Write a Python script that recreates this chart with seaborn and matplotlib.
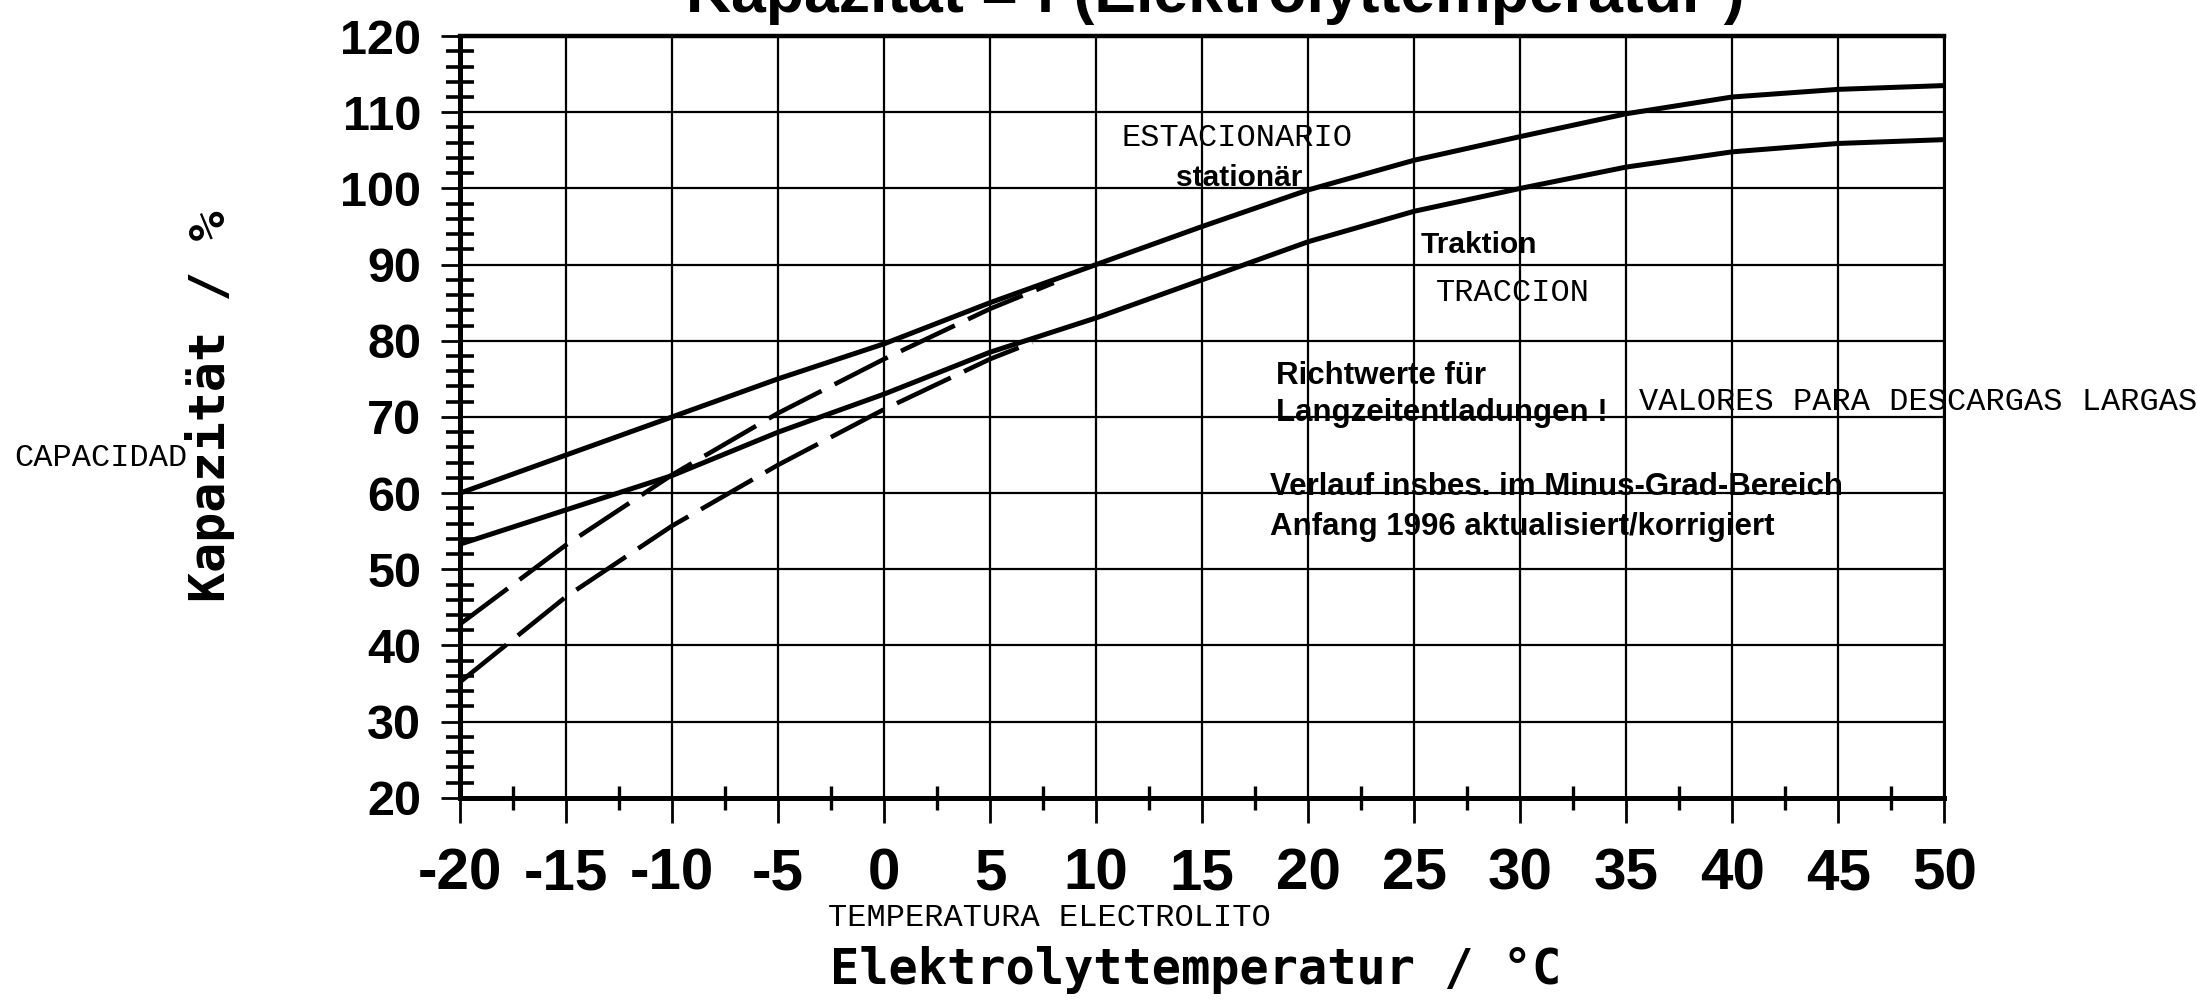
import matplotlib
matplotlib.use('Agg')
import matplotlib.pyplot as plt
import seaborn as sns
from matplotlib.ticker import MultipleLocator

# values
temps = [-20, -15, -10, -5, 0, 5, 10, 15, 20, 25, 30, 35, 40, 45, 50]
stationaer = [60, 65, 70, 75, 79.6, 85, 90, 95, 99.8, 103.7, 106.8, 109.8, 112, 113, 113.5]
traktion = [53.3, 57.8, 62.3, 68, 73, 78.5, 83, 88, 93, 97, 100, 102.8, 104.8, 105.9, 106.4]

# dashed (old) curves, minus range
temps_alt_st = [-20, -15, -10, -5, 0, 5, 8]
stationaer_alt = [42.8, 53.2, 62.4, 70.5, 77.6, 84.2, 87.6]
temps_alt_tr = [-20, -15, -10, -5, 0, 5, 7]
traktion_alt = [35.2, 46.4, 55.7, 63.7, 71, 77.6, 79.8]

xticks = list(range(-20, 55, 5))
xlabels = [str(v) for v in xticks]
yticks = list(range(20, 130, 10))
ylabels = [str(v) for v in yticks]

sns.set_style('ticks')
plt.rcParams['font.family'] = ['Liberation Sans', 'DejaVu Sans']
plt.rcParams['text.color'] = 'black'
plt.rcParams['xtick.color'] = 'black'
plt.rcParams['ytick.color'] = 'black'

fig = plt.figure(figsize=(21.97, 10.01), dpi=100)
ax = fig.add_axes([0.2094, 0.203, 0.885 - 0.2094, 0.964 - 0.203])

sns.lineplot(x=temps, y=stationaer, ax=ax, color='black', lw=3.6)
sns.lineplot(x=temps, y=traktion, ax=ax, color='black', lw=3.6)
sns.lineplot(x=temps_alt_st, y=stationaer_alt, ax=ax, color='black', lw=3.3,
             linestyle=(0, (13, 3.2)))
sns.lineplot(x=temps_alt_tr, y=traktion_alt, ax=ax, color='black', lw=3.3,
             linestyle=(0, (13, 3.2)))

ax.set_xlim(-20, 50)
ax.set_ylim(20, 120)
ax.set_xticks(xticks)
ax.set_yticks(yticks)
ax.xaxis.set_minor_locator(MultipleLocator(2.5))
ax.yaxis.set_minor_locator(MultipleLocator(2))
ax.set_xticklabels(xlabels, weight='bold', size=42, color='black')
ax.set_yticklabels(ylabels, weight='bold', size=35, color='black')
ax.grid(True, which='major', color='black', lw=1.6)

ax.tick_params(which='both', bottom=True, left=True, top=False, right=False)
ax.tick_params(axis='x', which='major', direction='out', length=18, width=2, pad=18)
ax.tick_params(axis='y', which='major', direction='out', length=14, width=2, pad=14)
ax.tick_params(axis='x', which='minor', direction='inout', length=17, width=2.4)
ax.tick_params(axis='y', which='minor', direction='inout', length=20, width=2.6)

for side, w in [('top', 3.2), ('left', 3.6), ('bottom', 3.6), ('right', 2.2)]:
    ax.spines[side].set_visible(True)
    ax.spines[side].set_color('black')
    ax.spines[side].set_linewidth(w)

# title, cut off by the top edge in the scan
fig.text(0.553, 0.988, 'Kapazität = f (Elektrolyttemperatur )', ha='center', va='baseline',
         weight='bold', size=45)

# axis labels
fig.text(0.0956, 0.594, 'Kapazität / %', rotation=90, ha='center', va='center',
         family='DejaVu Sans Mono', weight='bold', size=36)
fig.text(0.544, 0.031, 'Elektrolyttemperatur / °C', ha='center', va='center',
         family='DejaVu Sans Mono', weight='bold', size=35)

# spanish notes
mono = dict(family='Liberation Mono', size=23, color='black')
fig.text(0.0064, 0.542, 'CAPACIDAD', ha='left', va='center', **mono)
fig.text(0.377, 0.083, 'TEMPERATURA ELECTROLITO', ha='left', va='center', **mono)
ax.text(11.2, 106.6, 'ESTACIONARIO', ha='left', va='center', **mono)
ax.text(26.0, 86.3, 'TRACCION', ha='left', va='center', **mono)
ax.text(35.6, 72.0, 'VALORES PARA DESCARGAS LARGAS', ha='left', va='center',
        clip_on=False, **mono)

# german notes
bold = dict(weight='bold', color='black')
ax.text(13.75, 101.3, 'stationär', ha='left', va='center', size=21.5, **bold)
ax.text(25.3, 92.6, 'Traktion', ha='left', va='center', size=21.5, **bold)
ax.text(18.5, 75.4, 'Richtwerte für', ha='left', va='center', size=22.5, **bold)
ax.text(18.5, 70.5, 'Langzeitentladungen !', ha='left', va='center', size=22.5, **bold)
ax.text(18.2, 60.8, 'Verlauf insbes. im Minus-Grad-Bereich', ha='left', va='center',
        size=22.5, **bold)
ax.text(18.2, 55.6, 'Anfang 1996 aktualisiert/korrigiert', ha='left', va='center',
        size=22.5, **bold)

fig.savefig('out.png', dpi=100, facecolor='white')
